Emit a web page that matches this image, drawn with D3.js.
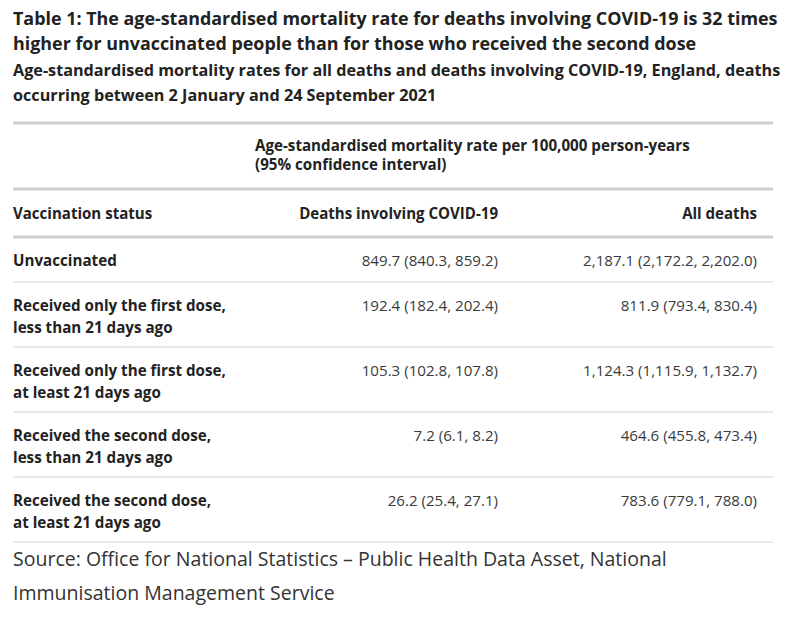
<!DOCTYPE html>
<html><head><meta charset="utf-8">
<script src="https://cdn.jsdelivr.net/npm/d3@7/dist/d3.min.js"></script>
<style>
html,body{margin:0;padding:0;background:#fff;}
svg{display:block;font-family:"Open Sans","Noto Sans",sans-serif;}
</style></head>
<body>
<svg id="chart" width="800" height="622"></svg>
<script>
const titleLines = ["Table 1: The age-standardised mortality rate for deaths involving COVID-19 is 32 times",
  "higher for unvaccinated people than for those who received the second dose"];
const subtitleLines = ["Age-standardised mortality rates for all deaths and deaths involving COVID-19, England, deaths",
  "occurring between 2 January and 24 September 2021"];
const spanHeader = ["Age-standardised mortality rate per 100,000 person-years", "(95% confidence interval)"];
const columns = ["Vaccination status", "Deaths involving COVID-19", "All deaths"];
const categories = [
  ["Unvaccinated"],
  ["Received only the first dose,", "less than 21 days ago"],
  ["Received only the first dose,", "at least 21 days ago"],
  ["Received the second dose,", "less than 21 days ago"],
  ["Received the second dose,", "at least 21 days ago"]
];
const covidRate = [849.7, 192.4, 105.3, 7.2, 26.2];
const covidLow  = [840.3, 182.4, 102.8, 6.1, 25.4];
const covidHigh = [859.2, 202.4, 107.8, 8.2, 27.1];
const allRate = [2187.1, 811.9, 1124.3, 464.6, 783.6];
const allLow  = [2172.2, 793.4, 1115.9, 455.8, 779.1];
const allHigh = [2202.0, 830.4, 1132.7, 473.4, 788.0];
const sourceLines = ["Source: Office for National Statistics \u2013 Public Health Data Asset, National",
  "Immunisation Management Service"];

const svg = d3.select("#chart");
const fmt = d3.format(",.1f");
const cell = (v, lo, hi) => `${fmt(v)} (${fmt(lo)}, ${fmt(hi)})`;

const L = 13, R = 773;
const colX = d3.scaleOrdinal().domain(columns).range([13, 498, 757]);

// fit a group of texts so that its reference line has target width
function fit(sel, refIndex, target) {
  const nodes = sel.nodes();
  const n = nodes[refIndex];
  const fs = parseFloat(n.getAttribute("font-size"));
  const w = n.getComputedTextLength();
  const nf = fs * target / w;
  sel.attr("font-size", nf.toFixed(2));
}

// title
const t = svg.append("g").selectAll("text").data(titleLines).join("text")
  .attr("x", L).attr("y", (d,i) => 25 + i*25)
  .attr("font-size", 18).attr("font-weight", 700).attr("fill", "#222").text(d => d);
fit(t, 0, 765);

const st = svg.append("g").selectAll("text").data(subtitleLines).join("text")
  .attr("x", L).attr("y", (d,i) => 76 + i*25)
  .attr("font-size", 15).attr("font-weight", 700).attr("fill", "#222").text(d => d);
fit(st, 0, 768);

// thick rules
const thick = [123, 189, 237];
svg.append("g").selectAll("line").data(thick).join("line")
  .attr("x1", L).attr("x2", R).attr("y1", d => d).attr("y2", d => d)
  .attr("stroke", "#d0d0d0").attr("stroke-width", 3);

const sh = svg.append("g").selectAll("text").data(spanHeader).join("text")
  .attr("x", 255).attr("y", (d,i) => 151 + i*19)
  .attr("font-size", 14).attr("font-weight", 700).attr("fill", "#222").text(d => d);
fit(sh, 0, 435);

const ch = svg.append("g").selectAll("text").data(columns).join("text")
  .attr("x", d => colX(d)).attr("y", 219)
  .attr("text-anchor", (d,i) => i === 0 ? "start" : "end")
  .attr("font-size", 14.5).attr("font-weight", 700).attr("fill", "#222").text(d => d);
fit(ch, 1, 199);

// rows: height = pad + lineH * lines
const units = [0];
categories.forEach(c => units.push(units[units.length-1] + 1.25 + c.length));
const yU = d3.scaleLinear().domain([0, 1]).range([237, 257]);
const rows = categories.map((c, i) => ({lines: c, top: yU(units[i]), bottom: yU(units[i+1]),
  covid: cell(covidRate[i], covidLow[i], covidHigh[i]), all: cell(allRate[i], allLow[i], allHigh[i])}));

svg.append("g").selectAll("line").data(rows).join("line")
  .attr("x1", L).attr("x2", R).attr("y1", d => d.bottom).attr("y2", d => d.bottom)
  .attr("stroke", "#e0e0e0").attr("stroke-width", 1.5);

const rg = svg.append("g").selectAll("g").data(rows).join("g");
rg.selectAll("text.lab").data(d => d.lines.map((l, j) => ({l, y: d.top + 29 + j*22}))).join("text")
  .attr("class", "lab").attr("x", colX(columns[0])).attr("y", d => d.y)
  .attr("font-size", 14.5).attr("font-weight", 700).attr("fill", "#222").text(d => d.l);
fit(svg.selectAll("text.lab"), 1, 213);

rg.append("text").attr("class", "val").attr("x", colX(columns[1])).attr("y", d => d.top + 29)
  .attr("text-anchor", "end").attr("font-size", 14.5).attr("fill", "#3a3a3a").text(d => d.covid);
rg.append("text").attr("class", "val").attr("x", colX(columns[2])).attr("y", d => d.top + 29)
  .attr("text-anchor", "end").attr("font-size", 14.5).attr("fill", "#3a3a3a").text(d => d.all);
fit(svg.selectAll("text.val"), 1, 174);

const src = svg.append("g").selectAll("text").data(sourceLines).join("text")
  .attr("x", L).attr("y", (d,i) => 566 + i*34)
  .attr("font-size", 19).attr("fill", "#333").text(d => d);
fit(src, 0, 654);
</script>
</body></html>
